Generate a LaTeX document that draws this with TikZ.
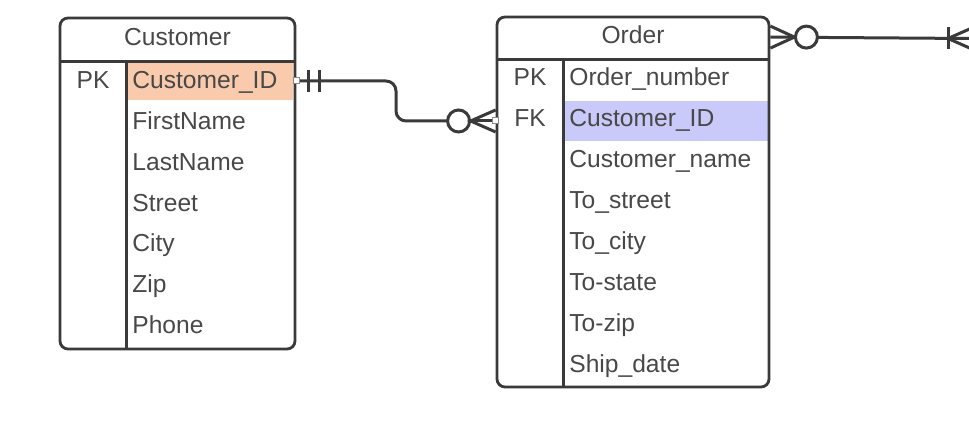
\documentclass[tikz,border=0pt]{standalone}
\usepackage{fontspec}
\setmainfont{Liberation Sans}
\usetikzlibrary{calc, positioning}
\definecolor{pkorange}{RGB}{249,203,172}
\definecolor{fkpurple}{RGB}{201,201,250}
\definecolor{linegray}{RGB}{58,58,58}
\definecolor{textgray}{RGB}{72,72,72}

\tikzset{
  entity/.style={draw=linegray, line width=1.4pt, rounded corners=4pt, inner sep=0pt},
  field/.style={anchor=base west, inner sep=0pt, text=textgray, font=\fontsize{12.3}{14}\selectfont},
  conn/.style={draw=linegray, line width=1.5pt},
  port/.style={draw=linegray!60, fill=white, line width=0.5pt}
}

\begin{document}
\begin{tikzpicture}[x=0.5pt, y=-0.5pt]
    \useasboundingbox (0,0) rectangle (969,431);
    \clip (0,0) rectangle (969,431);

    % Key row highlights
    \node[fill=pkorange, inner sep=0pt, minimum width=83pt, minimum height=19pt] (cidrow) at (210,81) {};
    \node[fill=fkpurple, inner sep=0pt, minimum width=102pt, minimum height=20pt] (ocidrow) at (666,121) {};

    % Customer entity
    \node[entity, minimum width=117.5pt, minimum height=165.5pt] (customer) at (177.5,183.5) {};
    \draw[conn] (customer.west |- 0,62) -- (customer.east |- 0,62);
    \draw[conn] (126,62) -- (customer.south -| 126,0);
    \node[field, anchor=base] (custtitle) at (177.5,46) {Customer};
    \node[field, anchor=base] (custpk) at (93,88.5) {PK};
    \node[field] (cid) at (132,88.5) {Customer\_ID};
    \node[field] (cfirst) at (132,129.5) {FirstName};
    \node[field] (clast) at (132,170.5) {LastName};
    \node[field] (cstreet) at (132,211.5) {Street};
    \node[field] (ccity) at (132,252) {City};
    \node[field] (czip) at (132,293) {Zip};
    \node[field] (cphone) at (132,334) {Phone};

    % Order entity
    \node[entity, minimum width=136pt, minimum height=185pt] (order) at (633,202) {};
    \draw[conn] (order.west |- 0,60) -- (order.east |- 0,60);
    \draw[conn] (563,60) -- (order.south -| 563,0);
    \node[field, anchor=base] (ordtitle) at (633,44) {Order};
    \node[field, anchor=base] (ordpk) at (530,86) {PK};
    \node[field, anchor=base] (ordfk) at (530,127) {FK};
    \node[field] (onum) at (569,86) {Order\_number};
    \node[field] (ocid) at (569,127) {Customer\_ID};
    \node[field] (oname) at (569,168) {Customer\_name};
    \node[field] (ostreet) at (569,209) {To\_street};
    \node[field] (ocity) at (569,250) {To\_city};
    \node[field] (ostate) at (569,291) {To-state};
    \node[field] (ozip) at (569,331.5) {To-zip};
    \node[field] (oship) at (569,372.5) {Ship\_date};

    % Customer to Order: one and only one -- zero or many
    \coordinate (custR) at (customer.east |- cidrow);
    \coordinate (ordL) at (order.west |- ocidrow);
    \coordinate (bend) at ($(custR)!0.5!(ordL)$);
    \draw[conn, rounded corners=5pt] (custR) -| (bend) |- ($(ordL)+(-48,0)$);
    \draw[conn] ($(custR)+(12,-11)$) -- ($(custR)+(12,11)$);
    \draw[conn] ($(custR)+(23,-11)$) -- ($(custR)+(23,11)$);
    \draw[conn, fill=white] ($(ordL)+(-37,0)$) circle (5.5pt);
    \draw[conn] ($(ordL)+(0,-11)$) -- ($(ordL)+(-25,0)$) -- ($(ordL)+(0,11)$);
    \draw[conn] ($(ordL)+(-25,0)$) -- (ordL);
    \draw[port] (custR) ++(-1.5pt,-1.5pt) rectangle ++(3pt,3pt);
    \draw[port] (ordL) ++(-1.5pt,-1.5pt) rectangle ++(3pt,3pt);

    % Order to next entity: zero or many -- one or many
    \coordinate (ordR) at ($(order.north east)+(0,21.5)$);
    \coordinate (nextent) at (969,38.5);
    \draw[conn] (ordR) -- (nextent);
    \draw[conn] ($(ordR)+(0,-11)$) -- ($(ordR)+(24,0)$) -- ($(ordR)+(0,11)$);
    \draw[conn, fill=white] ($(ordR)+(36,0)$) circle (5.5pt);
    \draw[conn] ($(nextent)+(-21,-11)$) -- ($(nextent)+(-21,11)$);
    \draw[conn] ($(nextent)+(4,-11)$) -- ($(nextent)+(-21,0)$) -- ($(nextent)+(4,11)$);
\end{tikzpicture}
\end{document}
